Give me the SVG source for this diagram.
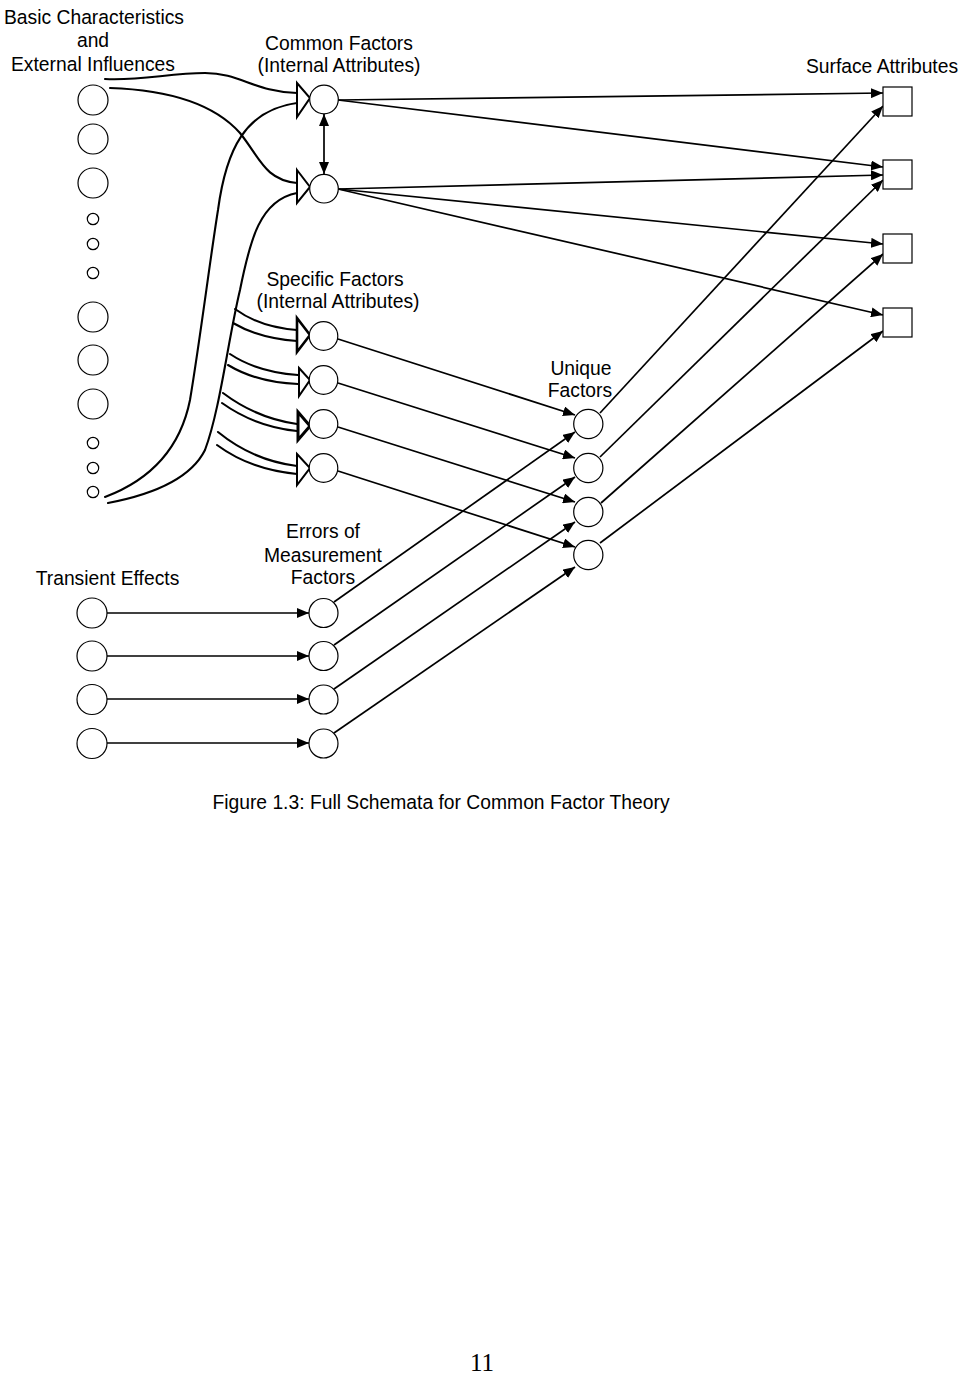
<svg xmlns="http://www.w3.org/2000/svg" width="960" height="1377" viewBox="0 0 960 1377">
<style>
text{font-family:"Liberation Sans",Arial,sans-serif;font-size:19.3px;fill:#000;text-anchor:middle}
.n{fill:#fff;stroke:#000;stroke-width:1.2}
.c{fill:none;stroke:#000;stroke-width:1.7}
.b{fill:none;stroke:#000;stroke-width:2.1;stroke-linecap:round}
.h{fill:#fff;stroke:#000;stroke-width:2;stroke-linejoin:miter}
.pg{font-family:"Liberation Serif","Times New Roman",serif;font-size:25px}
</style>
<defs>
<marker id="ah" viewBox="0 0 12 10" refX="12" refY="5" markerWidth="12" markerHeight="10" markerUnits="userSpaceOnUse" orient="auto-start-reverse"><path d="M0,0 L12,5 L0,10 z" fill="#000"/></marker>
</defs>
<rect width="960" height="1377" fill="#fff"/>

<g id="labels">
<text x="94" y="24">Basic Characteristics</text>
<text x="93" y="46.5">and</text>
<text x="93" y="70.5">External Influences</text>
<text x="339" y="50">Common Factors</text>
<text x="339" y="72">(Internal Attributes)</text>
<text x="882" y="73">Surface Attributes</text>
<text x="335" y="286">Specific Factors</text>
<text x="338" y="308">(Internal Attributes)</text>
<text x="581" y="375">Unique</text>
<text x="580" y="397">Factors</text>
<text x="107.5" y="585">Transient Effects</text>
<text x="323" y="538">Errors of</text>
<text x="323" y="562">Measurement</text>
<text x="323" y="584">Factors</text>
<text x="441" y="809">Figure 1.3: Full Schemata for Common Factor Theory</text>
<text class="pg" x="482" y="1371">11</text>
</g>

<g id="connectors">
<!-- broad hand-drawn arrows -->
<path class="b" d="M105,79 C140,81 170,73 205,73 C240,73 255,92 297,93"/>
<path class="b" d="M110,88 C170,90 215,105 240,133 C260,158 265,180 297,183"/>
<path class="b" d="M105,497 C150,480 180,450 190,400 C200,340 210,260 218,210 C226,150 245,110 297,103"/>
<path class="b" d="M108,503 C150,495 190,480 205,450 C220,410 228,340 240,290 C250,240 260,200 297,193"/>
<path class="b" d="M235,309 C250,320 270,328 297,330"/>
<path class="b" d="M233,323 C250,333 270,339 297,341"/>
<path class="b" d="M230,354 C248,366 270,373 298,375"/>
<path class="b" d="M228,365 C248,377 270,383 298,384"/>
<path class="b" d="M223,393 C243,408 268,420 297,424"/>
<path class="b" d="M222,403 C243,418 268,428 297,431"/>
<path class="b" d="M218,432 C240,450 265,462 297,466"/>
<path class="b" d="M217,445 C240,462 265,471 297,474"/>
<polygon class="h" points="297,83 310,98 297,117"/>
<polygon class="h" points="297,170 310,187 297,203"/>
<polygon class="h" points="297,318 310,335 297,352" style="stroke-width:2.6"/>
<polygon class="h" points="299,368 310,380 299,396"/>
<polygon class="h" points="298,412 310,426 298,440" style="stroke-width:3"/>
<polygon class="h" points="297,454 310,468 297,485"/>
<!-- common factor correlation -->
<line class="c" x1="324" y1="114" x2="324" y2="174" marker-start="url(#ah)" marker-end="url(#ah)"/>
<!-- common to surface -->
<line class="c" x1="338" y1="100" x2="883" y2="93" marker-end="url(#ah)"/>
<line class="c" x1="338" y1="100" x2="883" y2="167" marker-end="url(#ah)"/>
<line class="c" x1="338" y1="189" x2="883" y2="175" marker-end="url(#ah)"/>
<line class="c" x1="338" y1="189" x2="883" y2="244" marker-end="url(#ah)"/>
<line class="c" x1="338" y1="189" x2="883" y2="315" marker-end="url(#ah)"/>
<!-- unique to surface -->
<line class="c" x1="600" y1="413" x2="883" y2="106" marker-end="url(#ah)"/>
<line class="c" x1="600" y1="457" x2="883" y2="180" marker-end="url(#ah)"/>
<line class="c" x1="601" y1="503" x2="883" y2="254" marker-end="url(#ah)"/>
<line class="c" x1="600" y1="543" x2="883" y2="331" marker-end="url(#ah)"/>
<!-- specific to unique -->
<line class="c" x1="338" y1="339" x2="575" y2="415" marker-end="url(#ah)"/>
<line class="c" x1="338" y1="383" x2="575" y2="458" marker-end="url(#ah)"/>
<line class="c" x1="338" y1="427" x2="575" y2="502" marker-end="url(#ah)"/>
<line class="c" x1="338" y1="471" x2="575" y2="547" marker-end="url(#ah)"/>
<!-- errors to unique -->
<line class="c" x1="334" y1="602" x2="575" y2="432" marker-end="url(#ah)"/>
<line class="c" x1="334" y1="645" x2="575" y2="477" marker-end="url(#ah)"/>
<line class="c" x1="334" y1="689" x2="575" y2="522" marker-end="url(#ah)"/>
<line class="c" x1="334" y1="733" x2="575" y2="567" marker-end="url(#ah)"/>
<!-- transient to errors -->
<line class="c" x1="107" y1="613" x2="309" y2="613" marker-end="url(#ah)"/>
<line class="c" x1="107" y1="656" x2="309" y2="656" marker-end="url(#ah)"/>
<line class="c" x1="107" y1="699" x2="309" y2="699" marker-end="url(#ah)"/>
<line class="c" x1="107" y1="743" x2="309" y2="743" marker-end="url(#ah)"/>
</g>

<g id="basic-characteristics">
<circle class="n" cx="93" cy="100" r="15"/>
<circle class="n" cx="93" cy="139" r="15"/>
<circle class="n" cx="93" cy="183" r="15"/>
<circle class="n" cx="93" cy="219" r="5.7"/>
<circle class="n" cx="93" cy="244" r="5.7"/>
<circle class="n" cx="93" cy="273" r="5.7"/>
<circle class="n" cx="93" cy="317" r="15"/>
<circle class="n" cx="93" cy="360" r="15"/>
<circle class="n" cx="93" cy="404" r="15"/>
<circle class="n" cx="93" cy="443" r="5.7"/>
<circle class="n" cx="93" cy="468" r="5.7"/>
<circle class="n" cx="93" cy="492" r="5.7"/>
</g>
<g id="common-factors">
<circle class="n" cx="324" cy="99.5" r="14.3"/>
<circle class="n" cx="324" cy="188.7" r="14.3"/>
</g>
<g id="specific-factors">
<circle class="n" cx="323.5" cy="336" r="14.3"/>
<circle class="n" cx="323.5" cy="380" r="14.3"/>
<circle class="n" cx="323.5" cy="424" r="14.3"/>
<circle class="n" cx="323.5" cy="468" r="14.3"/>
</g>
<g id="unique-factors">
<circle class="n" cx="588.3" cy="424" r="14.6"/>
<circle class="n" cx="588.3" cy="468" r="14.6"/>
<circle class="n" cx="588.3" cy="512" r="14.6"/>
<circle class="n" cx="588.3" cy="555" r="14.6"/>
</g>
<g id="surface-attributes">
<rect class="n" x="883" y="87" width="29" height="29"/>
<rect class="n" x="883" y="160" width="29" height="29"/>
<rect class="n" x="883" y="234" width="29" height="29"/>
<rect class="n" x="883" y="308" width="29" height="29"/>
</g>
<g id="transient-effects">
<circle class="n" cx="92" cy="613" r="15"/>
<circle class="n" cx="92" cy="656" r="15"/>
<circle class="n" cx="92" cy="699.5" r="15"/>
<circle class="n" cx="92" cy="743.5" r="15"/>
</g>
<g id="errors-of-measurement">
<circle class="n" cx="323.5" cy="613" r="14.5"/>
<circle class="n" cx="323.5" cy="656" r="14.5"/>
<circle class="n" cx="323.5" cy="699.5" r="14.5"/>
<circle class="n" cx="323.5" cy="743.5" r="14.5"/>
</g>
</svg>
